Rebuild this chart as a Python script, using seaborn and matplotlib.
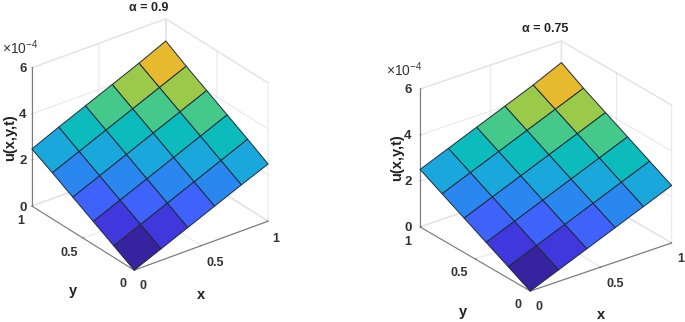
import matplotlib
matplotlib.use("Agg")
import matplotlib.pyplot as plt
import matplotlib.transforms as mtrans
import numpy as np
import seaborn as sns
from matplotlib.colors import ListedColormap

sns.set_theme(style="white")
FONT = ["Liberation Sans", "DejaVu Sans"]
plt.rcParams["font.family"] = FONT
plt.rcParams["mathtext.default"] = "regular"

grid_x = [0, 0.2, 0.4, 0.6, 0.8, 1.0]
grid_y = [0, 0.2, 0.4, 0.6, 0.8, 1.0]
u_alpha_090 = [
    [0.0, 0.5, 1.0, 1.5, 2.0, 2.48],
    [0.5, 1.0, 1.5, 2.0, 2.5, 3.0],
    [1.0, 1.5, 2.0, 2.5, 3.0, 3.5],
    [1.5, 2.0, 2.5, 3.0, 3.5, 4.0],
    [2.0, 2.5, 3.0, 3.5, 4.0, 4.5],
    [2.48, 3.0, 3.5, 4.0, 4.5, 5.04],
]
u_alpha_075 = [
    [0.0, 0.5, 1.0, 1.5, 2.0, 2.5],
    [0.5, 1.0, 1.5, 2.0, 2.5, 3.0],
    [1.0, 1.5, 2.0, 2.5, 3.0, 3.5],
    [1.5, 2.0, 2.5, 3.0, 3.5, 4.0],
    [2.0, 2.5, 3.0, 3.5, 4.0, 4.5],
    [2.5, 3.0, 3.5, 4.0, 4.5, 5.06],
]
band_colors = ["#37239f", "#4038dc", "#3f62fb", "#2a87ef", "#1aa8dc",
               "#0cbcbc", "#45c98a", "#9bc94a", "#e6b92e"]
xy_ticks = [0, 0.5, 1]
xy_ticklabels = ["0", "0.5", "1"]
z_ticks = [0, 2, 4, 6]

W, H = 685, 322
fig = plt.figure(figsize=(W / 100, H / 100), dpi=100, facecolor="white")
cmap = ListedColormap(sns.color_palette(band_colors, 9))


def nudge(ax, axis, shifts):
    """Axis3D.get_major_ticks resets label transforms, so re-apply the pixel shifts after it."""
    original = axis.get_major_ticks

    def shifted(numticks=None):
        ticks = original(numticks)
        for tick, (dx, dy) in zip(ticks, shifts):
            tick.label1.set_transform(ax.transData + mtrans.Affine2D().translate(dx, -dy))
        return ticks

    axis.get_major_ticks = shifted


def panel(values, title, width, cx, cy, azim, elev, aspect, title_xy, exp_xy, zlabel_xy, xlabel_xy, ylabel_xy,
          x_shift, y_shift, z_shift):
    left = cx - 0.5135 * width
    bottom = H - (cy + 0.5135 * width)
    ax = fig.add_axes([left / W, bottom / H, width / W, width / H], projection="3d", proj_type="ortho")
    ax.view_init(elev=elev, azim=azim)
    ax.set_box_aspect(aspect)
    ax.patch.set_alpha(0)
    X, Y = np.meshgrid(grid_x, grid_y)
    ax.plot_surface(X, Y, np.array(values), cmap=cmap, vmin=0.25, vmax=4.75, rstride=1, cstride=1,
                    edgecolor="#1e2a3a", linewidth=0.7, shade=False, antialiased=True)
    ax.set_xlim(0, 1)
    ax.set_ylim(0, 1)
    ax.set_zlim(0, 6)
    ax.set_xticks(xy_ticks, xy_ticklabels)
    ax.set_yticks(xy_ticks, xy_ticklabels)
    ax.set_zticks(z_ticks)
    for axis in (ax.xaxis, ax.yaxis, ax.zaxis):
        axis.set_pane_color((1, 1, 1, 1))
        axis.pane.set_edgecolor("#e2e2e2")
        axis.line.set_color("#7a7a7a")
        axis.line.set_linewidth(0.8)
        axis._axinfo["grid"].update(color="#e6e6e6", linewidth=0.7)
        axis._axinfo["tick"].update(inward_factor=0.0, outward_factor=0.1)
        axis._axinfo["tick"]["linewidth"] = {True: 0.7, False: 0.7}
    ax.tick_params(axis="x", labelsize=9, labelcolor="#333333", color="#7a7a7a", pad=-4)
    ax.tick_params(axis="y", labelsize=9, labelcolor="#333333", color="#7a7a7a", pad=-4)
    ax.tick_params(axis="z", labelsize=9.5, labelcolor="#333333", color="#7a7a7a", pad=-4)
    for lab in ax.get_xticklabels() + ax.get_yticklabels() + ax.get_zticklabels():
        lab.set_fontweight("bold")
    nudge(ax, ax.xaxis, x_shift)
    nudge(ax, ax.yaxis, y_shift)
    nudge(ax, ax.zaxis, z_shift)
    fig.text(title_xy[0] / W, 1 - title_xy[1] / H, title, ha="center", va="center",
             fontsize=9, fontweight="bold", color="#222222")
    fig.text(exp_xy[0] / W, 1 - exp_xy[1] / H, "×10$^{-4}$", ha="left", va="center",
             fontsize=10, color="#333333")
    fig.text(zlabel_xy[0] / W, 1 - zlabel_xy[1] / H, "u(x,y,t)", rotation=90, ha="center", va="center",
             fontsize=10.5, fontweight="bold", color="#222222")
    fig.text(xlabel_xy[0] / W, 1 - xlabel_xy[1] / H, "x", ha="center", va="center",
             fontsize=10.5, fontweight="bold", color="#222222")
    fig.text(ylabel_xy[0] / W, 1 - ylabel_xy[1] / H, "y", ha="center", va="center",
             fontsize=10.5, fontweight="bold", color="#222222")
    return ax


panel(u_alpha_090, "α = 0.9", 277.3, 150, 144.5, -127.4, 28.6, (168, 168, 157),
      (149, 8), (2, 48), (10, 138), (201, 295), (73, 291),
      [(5, 2), (10, 4), (4, 4)], [(-6, 1), (-9, 2), (-6, 2)], [(0, -4)] * 4)
panel(u_alpha_075, "α = 0.75", 288.5, 545.85, 166, -127.4, 26.4, (178, 181.5, 154),
      (545, 29), (386, 70), (397, 158), (601, 315), (463, 312),
      [(5, 2), (10, 4), (5, 3)], [(-7, 1), (-11, 1), (-7, 2)], [(-3, -4)] * 4)

fig.savefig("out.png", dpi=100, facecolor="white")
